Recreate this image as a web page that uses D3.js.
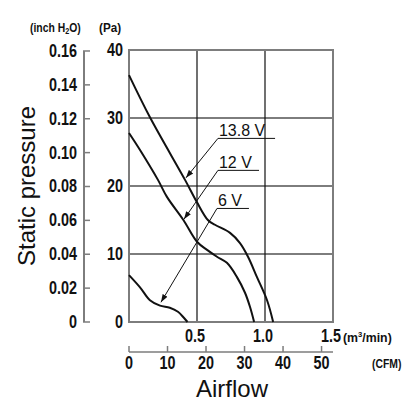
<!DOCTYPE html>
<html>
<head>
<meta charset="utf-8">
<script src="https://cdn.jsdelivr.net/npm/d3@7"></script>
<style>
  body { margin: 0; background: #fff; }
  svg text { fill: #111; }
  .num { font-family: "Liberation Sans", Arial, sans-serif; font-weight: bold; }
  .lab { font-family: "Liberation Sans", Arial, sans-serif; }
</style>
</head>
<body>
<svg id="chart" width="413" height="412"></svg>
<script>
// curves: [airflow m3/min, static pressure Pa]
var v138 = [[0,36.3],[0.154,30.1],[0.412,20.9],[0.5,17.6],[0.58,15.0],[0.632,14.3],[0.743,13.1],
            [0.816,11.6],[0.875,9.6],[0.941,6.6],[1.015,3.2],[1.06,0]];
var v12 = [[0,27.8],[0.081,25.3],[0.213,20.9],[0.279,18.4],[0.40,15.0],[0.5,11.8],[0.574,10.6],
           [0.647,9.6],[0.72,8.7],[0.794,6.6],[0.853,4.3],[0.89,2.2],[0.92,0]];
var v6 = [[0,6.9],[0.081,5.1],[0.154,3.2],[0.228,2.4],[0.30,2.1],[0.36,1.5],[0.40,0.7],[0.43,0]];

// callouts: label, text start/baseline, underline end, arrow tip (data units)
var calloutText = ['13.8 V', '12 V', '6 V'];
var calloutBase = [[0.654,27.0],[0.654,22.3],[0.647,16.7]];
var calloutEnd = [1.074, 0.956, 0.882];
var calloutTip = [[0.419,21.2],[0.404,15.1],[0.235,2.9]];

var paTicks = [0, 10, 20, 30, 40];
var inchTicks = [0, 0.02, 0.04, 0.06, 0.08, 0.10, 0.12, 0.14, 0.16];
var flowTicks = [0.5, 1.0, 1.5];
var cfmTicks = [0, 10, 20, 30, 40, 50];

var PA_PER_INCH = 249.09, CFM_PER_M3 = 35.315;

var svg = d3.select('#chart');
var x = d3.scaleLinear().domain([0, 1.5]).range([129, 333]);
var y = d3.scaleLinear().domain([0, 40]).range([322, 50]);
var cfm = d3.scaleLinear().domain([0, 1.5 * CFM_PER_M3]).range([129, 333]);

var grid = '#7d7d7d';

// condensed bold text: no narrow font installed, so squeeze horizontally
function cond(px, py, size, anchor, sx) {
    return svg.append('text').attr('class', 'num')
        .attr('transform', 'translate(' + px + ',' + py + ') scale(' + (sx || 0.8) + ',1)')
        .attr('font-size', size).attr('text-anchor', anchor || 'start');
}

// horizontal grid (gray)
svg.selectAll('.hg').data(paTicks.slice(1)).enter().append('line')
    .attr('x1', x(0)).attr('x2', x(1.5))
    .attr('y1', function (d) { return y(d); }).attr('y2', function (d) { return y(d); })
    .attr('stroke', grid).attr('stroke-width', 2);
// vertical grid (black, thin)
svg.selectAll('.vg').data([0.5, 1.0]).enter().append('line')
    .attr('x1', function (d) { return x(d); }).attr('x2', function (d) { return x(d); })
    .attr('y1', y(0)).attr('y2', y(40))
    .attr('stroke', '#111').attr('stroke-width', 1.2);
// frame
svg.append('rect').attr('x', x(0)).attr('y', y(40))
    .attr('width', x(1.5) - x(0)).attr('height', y(0) - y(40))
    .attr('fill', 'none').attr('stroke', grid).attr('stroke-width', 2);

// Pa labels
paTicks.forEach(function (d) {
    cond(123, y(d) + 6, 18, 'end').text(d);
});

// inch H2O axis
var yIn = function (v) { return y(v * PA_PER_INCH); };
svg.append('line').attr('x1', 84).attr('x2', 84)
    .attr('y1', yIn(0.16)).attr('y2', yIn(0))
    .attr('stroke', grid).attr('stroke-width', 2);
svg.selectAll('.it').data(inchTicks).enter().append('line')
    .attr('x1', 83).attr('x2', 90)
    .attr('y1', function (d) { return yIn(d); }).attr('y2', function (d) { return yIn(d); })
    .attr('stroke', grid).attr('stroke-width', 1.5);
inchTicks.forEach(function (d) {
    cond(77, yIn(d) + 6, 18, 'end').text(d === 0 ? '0' : d.toFixed(2));
});

// unit headers
var hdr = cond(30, 32, 13, 'start', 0.8);
hdr.append('tspan').text('(inch H');
hdr.append('tspan').attr('font-size', 9).attr('dy', 2).text('2');
hdr.append('tspan').attr('dy', -2).text('O)');
cond(99, 32, 13, 'start', 0.9).text('(Pa)');

// y title
svg.append('text').attr('class', 'lab')
    .attr('transform', 'translate(35,186) rotate(-90)')
    .attr('text-anchor', 'middle').attr('font-size', 24)
    .text('Static pressure');

// m3/min labels
flowTicks.forEach(function (d) {
    cond(x(d) - 2, 342, 18, 'middle').text(d.toFixed(1));
});
var mu = cond(343, 342, 13, 'start', 0.95);
mu.append('tspan').text('(m');
mu.append('tspan').attr('font-size', 8).attr('dy', -5).text('3');
mu.append('tspan').attr('dy', 5).text('/min)');

// CFM axis
svg.append('line').attr('x1', cfm(0)).attr('x2', x(1.5))
    .attr('y1', 352).attr('y2', 352).attr('stroke', grid).attr('stroke-width', 1.5);
svg.selectAll('.ct').data(cfmTicks).enter().append('line')
    .attr('x1', function (d) { return cfm(d); }).attr('x2', function (d) { return cfm(d); })
    .attr('y1', 346).attr('y2', 352).attr('stroke', grid).attr('stroke-width', 1.5);
cfmTicks.forEach(function (d) {
    cond(cfm(d), 369, 18, 'middle').text(d);
});
cond(372, 368, 13, 'start', 0.8).text('(CFM)');

svg.append('text').attr('class', 'lab')
    .attr('x', 232).attr('y', 397).attr('text-anchor', 'middle').attr('font-size', 24)
    .text('Airflow');

// curves
var line = d3.line()
    .x(function (d) { return x(d[0]); })
    .y(function (d) { return y(d[1]); })
    .curve(d3.curveCatmullRom.alpha(0.5));
svg.selectAll('.curve').data([v138, v12, v6]).enter().append('path')
    .attr('d', line).attr('fill', 'none')
    .attr('stroke', '#111').attr('stroke-width', 2);

// callouts
svg.append('defs').append('marker')
    .attr('id', 'arr').attr('viewBox', '0 0 10 10')
    .attr('refX', 10).attr('refY', 5)
    .attr('markerWidth', 8).attr('markerHeight', 8)
    .attr('markerUnits', 'userSpaceOnUse')
    .attr('orient', 'auto')
    .append('path').attr('d', 'M0,1.5L10,5L0,8.5Z').attr('fill', '#111');

calloutText.forEach(function (t, i) {
    var b = calloutBase[i], tip = calloutTip[i];
    svg.append('text').attr('class', 'lab')
        .attr('x', x(b[0]) + 1).attr('y', y(b[1]) - 2).attr('font-size', 16)
        .text(t);
    svg.append('line')
        .attr('x1', x(b[0])).attr('x2', x(calloutEnd[i]))
        .attr('y1', y(b[1])).attr('y2', y(b[1]))
        .attr('stroke', '#111').attr('stroke-width', 1);
    svg.append('line')
        .attr('x1', x(b[0])).attr('y1', y(b[1]))
        .attr('x2', x(tip[0])).attr('y2', y(tip[1]))
        .attr('stroke', '#111').attr('stroke-width', 1)
        .attr('marker-end', 'url(#arr)');
});
</script>
</body>
</html>
